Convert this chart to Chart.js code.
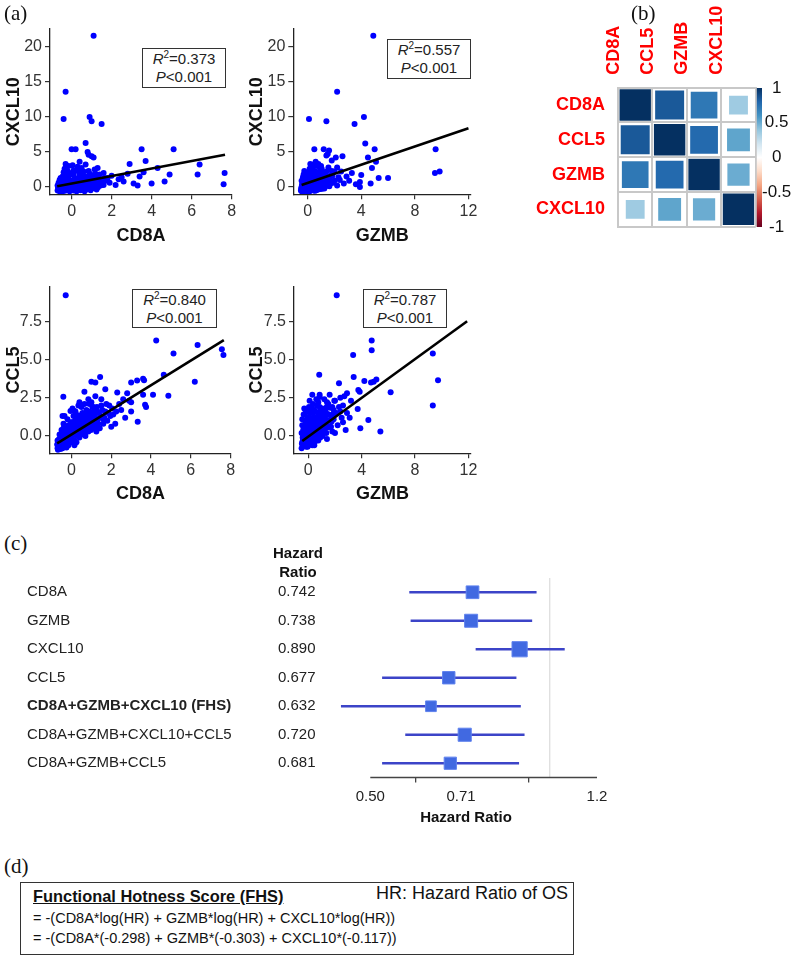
<!DOCTYPE html>
<html><head><meta charset="utf-8">
<script src="https://cdn.jsdelivr.net/npm/chart.js@4.4.0/dist/chart.umd.min.js"></script>
<style>
html,body{margin:0;padding:0;background:#fff;}
#root{position:relative;width:794px;height:968px;overflow:hidden;font-family:"Liberation Sans",Arial,sans-serif;color:#111;}
canvas{position:absolute;}
.lab{position:absolute;font-family:"Liberation Serif","Times New Roman",serif;font-size:21px;color:#111;line-height:24px;}
.stat{position:absolute;border:1px solid #333;background:#fff;text-align:center;font-size:15px;line-height:18px;color:#222;box-sizing:border-box;padding-top:1px;}
.stat i{font-style:italic;}
.stat sup{font-size:10px;line-height:0;vertical-align:6px;}
</style></head>
<body><div id="root">
<canvas id="sTL" width="240" height="240" style="left:0;top:15px"></canvas>
<canvas id="sTR" width="240" height="240" style="left:243px;top:15px"></canvas>
<canvas id="sBL" width="240" height="240" style="left:0;top:272px"></canvas>
<canvas id="sBR" width="240" height="240" style="left:243px;top:272px"></canvas>
<canvas id="mat" width="240" height="251" style="left:530px;top:0"></canvas>
<canvas id="cbar" width="49" height="163" style="left:745px;top:77px"></canvas>
<canvas id="forest" width="620" height="263" style="left:0;top:569px"></canvas>

<div class="lab" style="left:4px;top:1px">(a)</div>
<div class="lab" style="left:631px;top:1px">(b)</div>
<div class="lab" style="left:4px;top:531px">(c)</div>
<div class="lab" style="left:4px;top:854px">(d)</div>

<div class="stat" style="left:142px;top:48px;width:84px;height:40px"><i>R</i><sup>2</sup>=0.373<br><i>P</i>&lt;0.001</div>
<div class="stat" style="left:387px;top:39px;width:84px;height:40px"><i>R</i><sup>2</sup>=0.557<br><i>P</i>&lt;0.001</div>
<div class="stat" style="left:132px;top:289px;width:85px;height:39px"><i>R</i><sup>2</sup>=0.840<br><i>P</i>&lt;0.001</div>
<div class="stat" style="left:363px;top:289px;width:84px;height:39px"><i>R</i><sup>2</sup>=0.787<br><i>P</i>&lt;0.001</div>

<div style="position:absolute;left:263px;top:543px;width:70px;text-align:center;font-weight:bold;font-size:15px;line-height:19px;color:#111">Hazard<br>Ratio</div>

<div style="position:absolute;left:20px;top:882px;width:554px;height:73px;border:1.3px solid #333;box-sizing:border-box;color:#111">
 <div style="position:absolute;left:12px;top:4px;font-weight:bold;font-size:16.4px;text-decoration:underline;white-space:nowrap">Functional Hotness Score (FHS)</div>
 <div style="position:absolute;right:5px;top:0px;font-size:18px;white-space:nowrap">HR: Hazard Ratio of OS</div>
 <div style="position:absolute;left:12px;top:27px;font-size:14.5px;white-space:nowrap">= -(CD8A*log(HR) + GZMB*log(HR) + CXCL10*log(HR))</div>
 <div style="position:absolute;left:12px;top:47px;font-size:14.5px;white-space:nowrap">= -(CD8A*(-0.298) + GZMB*(-0.303) + CXCL10*(-0.117))</div>
</div>
</div>
<script>
// ---------------- data ----------------
const cd8aCxcl10 = [
[1.1,21.6],[-0.3,13.6],[-0.4,9.7],[0.9,10.0],[1.0,9.4],[1.5,9.0],[0.7,6.3],[0.0,5.4],[0.2,5.4],[0.8,5.0],[0.85,4.6],[1.0,4.4],[1.1,4.2],[-0.3,3.3],[-0.15,3.0],[0.4,3.6],[1.3,2.7],[3.5,5.4],[5.1,5.4],[3.7,3.7],[2.9,3.3],[4.3,2.7],[6.4,3.2],[6.3,1.8],[4.9,1.8],[7.65,2.0],[7.6,0.4],[4.65,0.8],[4.0,0.5],[3.1,0.5],[2.35,1.1],[3.6,2.1],[3.4,1.5],[2.0,1.6],[1.6,2.0],[1.8,1.3],[2.6,0.8],[1.4,1.8],[2.2,0.3],[1.9,0.6],[2.8,1.9],[3.3,0.2],[1.7,0.9],[2.5,1.4],
[-0.7,-0.5],[-0.6,-0.3],[-0.55,0.0],[-0.5,0.4],[-0.45,-0.6],[-0.4,0.8],[-0.35,-0.2],[-0.3,1.2],[-0.25,0.3],[-0.2,-0.4],[-0.15,1.6],[-0.1,0.6],[-0.05,-0.1],[0.0,2.0],[0.05,0.9],[0.1,-0.5],[0.15,1.3],[0.2,0.2],[0.25,2.4],[0.3,0.7],[0.35,-0.3],[0.4,1.8],[0.45,0.4],[0.5,-0.1],[0.55,1.1],[0.6,2.2],[0.65,0.5],[0.7,-0.4],[0.75,1.5],[0.8,0.8],[0.85,0.1],[0.9,1.9],[0.95,0.6],[1.0,-0.2],[1.05,1.2],[1.1,0.4],[1.15,2.5],[1.2,0.9],[1.25,0.1],[1.3,1.4],[1.35,0.6],[1.45,0.2],[1.5,1.0],[-0.65,0.6],[-0.6,1.0],[-0.5,-0.2],[-0.4,2.1],[-0.3,0.1],[-0.2,0.9],[-0.1,-0.6],[0.0,0.4],[0.1,1.7],[0.2,-0.3],[0.3,1.0],[0.4,0.0],[0.5,2.7],[0.6,0.3],[0.7,1.2],[0.8,-0.1],[0.9,0.5],[1.0,1.6],[0.15,0.6],[0.45,1.4],[-0.45,1.5],[-0.7,0.2],[-0.6,-0.6],[0.25,-0.6],[0.65,-0.6],[-0.35,2.6],[0.05,3.1],[0.3,2.9],[0.7,3.2],[-0.2,2.3],[1.2,1.9],[0.55,0.0],[0.35,0.3],[-0.05,0.2],[-0.25,-0.3],
[-0.68,-0.1],[-0.62,0.3],[-0.58,-0.45],[-0.52,0.15],[-0.48,0.7],[-0.42,-0.35],[-0.38,0.35],[-0.33,-0.55],[-0.28,0.55],[-0.22,0.15],[-0.18,-0.15],[-0.12,0.35],[-0.08,0.95],[-0.02,-0.35],[0.02,0.65],[0.08,0.15],[0.12,-0.2],[0.18,0.95],[0.22,0.45],[0.28,-0.45],[0.32,0.25],[0.38,1.25],[0.42,-0.25],[0.48,0.75],[0.52,0.15],[0.58,-0.35],[0.62,0.95],[0.68,0.25],[0.72,0.65],[0.78,-0.25],[0.82,0.45],[0.88,1.05],[0.92,-0.05],[0.98,0.35],[1.02,0.85],[1.08,-0.15],[1.12,0.75],[1.18,0.35],[1.22,1.15],[1.28,0.45],[1.32,-0.05],[1.38,0.95],[1.42,0.55],[1.48,0.35],[1.55,0.75],[1.6,0.3],[1.65,1.3],[-0.55,1.3],[-0.25,1.8],[0.1,2.4],[0.35,2.2],[0.6,1.6],[0.85,2.3],[1.1,1.7],[-0.65,-0.35],[-0.05,-0.45],[0.45,-0.45],[0.95,-0.45],[1.25,-0.35],[-0.35,0.6],[0.15,0.3],[0.65,0.1],[0.75,0.35],[0.05,-0.2],[0.55,0.55]
];
const gzmbCxcl10 = [
[4.9,21.6],[2.2,13.6],[0.1,9.7],[4.2,10.0],[1.4,9.4],[3.5,9.0],[4.3,6.2],[0.5,5.4],[1.2,5.4],[1.6,5.2],[1.5,4.7],[1.4,4.5],[2.6,4.4],[5.0,5.4],[9.55,5.4],[4.5,4.2],[4.8,2.7],[5.1,3.6],[4.0,1.7],[3.3,2.0],[5.3,1.3],[6.0,1.3],[9.5,2.0],[9.85,2.2],[4.7,0.5],[3.9,0.7],[3.9,0.0],[2.1,4.2],[0.8,3.3],[0.3,3.0],[0.6,3.6],[1.0,3.0],[1.8,3.8],[2.9,1.5],[2.4,1.0],[2.7,0.5],[3.1,0.9],[2.0,2.2],[1.7,1.6],[3.6,0.4],[2.2,0.2],[1.9,0.6],
[-0.5,-0.5],[-0.45,0.0],[-0.4,-0.3],[-0.35,0.5],[-0.3,1.0],[-0.25,-0.6],[-0.2,0.3],[-0.15,1.5],[-0.1,-0.2],[-0.05,0.8],[0.0,2.0],[0.05,0.1],[0.1,1.2],[0.15,-0.4],[0.2,0.6],[0.25,2.4],[0.3,0.0],[0.35,1.6],[0.4,0.4],[0.45,-0.5],[0.5,1.0],[0.55,2.2],[0.6,0.2],[0.65,1.4],[0.7,-0.2],[0.75,0.7],[0.8,1.9],[0.85,0.3],[0.9,1.1],[0.95,-0.3],[1.0,0.6],[1.05,2.6],[1.1,1.3],[1.15,0.1],[1.2,0.8],[1.3,1.7],[1.35,0.4],[1.4,1.0],[1.5,0.2],[-0.45,0.9],[-0.35,-0.1],[-0.3,1.8],[-0.2,0.0],[-0.1,1.1],[0.0,-0.6],[0.1,0.5],[0.2,1.6],[0.3,-0.3],[0.4,2.8],[0.5,0.3],[0.6,1.2],[0.7,3.0],[0.8,0.0],[0.9,2.3],[1.0,-0.1],[1.1,0.5],[1.2,2.0],[1.25,-0.2],[0.15,2.6],[-0.25,2.3],[0.45,3.2],[0.05,0.9],[0.35,0.7],[0.65,0.6],[0.25,-0.1],[-0.05,0.4],[1.6,1.2],[1.7,0.5],[1.8,2.3],[1.55,2.8],
[-0.48,-0.2],[-0.42,0.35],[-0.38,-0.5],[-0.32,0.15],[-0.28,0.65],[-0.22,-0.35],[-0.18,1.2],[-0.12,0.25],[-0.08,-0.45],[-0.02,0.55],[0.02,1.4],[0.08,-0.25],[0.12,0.35],[0.18,0.95],[0.22,-0.5],[0.28,0.45],[0.32,1.25],[0.38,0.05],[0.42,0.75],[0.48,1.75],[0.52,-0.15],[0.58,0.55],[0.62,0.95],[0.68,0.25],[0.72,1.5],[0.78,-0.35],[0.82,0.65],[0.88,0.15],[0.92,1.45],[0.98,0.35],[1.02,0.95],[1.08,-0.25],[1.12,0.75],[1.18,1.55],[1.22,0.35],[1.28,0.05],[1.32,1.0],[1.38,0.6],[1.45,1.4],[1.52,0.7],[1.62,0.1],[1.72,0.9],[1.85,1.6],[2.0,0.9],[2.3,1.4],[2.5,2.2],[2.2,2.8],[1.4,2.2],[0.9,2.9],[0.2,3.3],[-0.35,1.4],[-0.15,0.6],[0.05,0.3],[0.25,0.1],[0.45,0.3],[0.65,-0.45],[0.85,-0.15],[-0.45,-0.6],[0.15,-0.6],[0.55,-0.55]
];
const cd8aCcl5 = [
[-0.29,9.2],[4.26,6.25],[6.34,5.95],[5.13,5.4],[7.56,5.67],[7.64,5.3],[6.2,3.55],[4.64,4.0],[1.44,3.86],[1.0,3.55],[1.2,3.5],[3.6,3.75],[3.65,3.65],[3.3,3.63],[3.0,3.5],[4.87,2.63],[3.6,2.7],[4.1,2.7],[3.7,2.05],[3.75,1.9],[3.33,0.94],[-0.41,2.57],[-0.45,1.3],[-0.05,1.64],[0.15,1.64],[1.7,3.05],[0.65,2.9],[2.2,0.8],[2.9,2.3],[3.0,2.2],[2.3,2.85],[2.6,2.4],[1.9,2.0],[2.1,1.4],[2.5,1.7],[1.6,1.1],[2.8,2.8],[1.3,0.6],[0.9,2.1],[1.5,2.4],[1.1,1.9],[0.4,2.2],
[-0.7,-0.8],[-0.65,-0.5],[-0.6,-0.7],[-0.55,-0.3],[-0.5,-0.6],[-0.45,0.0],[-0.4,-0.4],[-0.35,0.2],[-0.3,-0.5],[-0.25,0.4],[-0.2,-0.2],[-0.15,0.7],[-0.1,0.0],[-0.05,-0.4],[0.0,0.5],[0.05,0.9],[0.1,0.1],[0.15,-0.3],[0.2,0.6],[0.25,1.2],[0.3,0.3],[0.35,0.8],[0.4,-0.1],[0.45,1.0],[0.5,0.5],[0.55,1.5],[0.6,0.2],[0.65,1.0],[0.7,0.6],[0.75,1.7],[0.8,0.9],[0.85,0.3],[0.9,1.3],[0.95,0.7],[1.0,1.1],[1.05,1.9],[1.1,0.5],[1.15,1.4],[1.2,0.9],[1.3,1.6],[1.35,0.8],[1.4,1.2],[1.5,2.0],[-0.7,-0.3],[-0.6,0.1],[-0.5,0.4],[-0.4,0.8],[-0.3,-0.1],[-0.2,1.1],[-0.1,0.4],[0.0,-0.1],[0.1,0.7],[0.2,1.6],[0.3,0.0],[0.4,0.6],[0.5,1.3],[0.6,0.8],[0.7,0.0],[0.8,1.4],[0.9,0.5],[1.0,2.2],[1.1,1.0],[1.2,1.8],[-0.45,-0.8],[-0.15,-0.6],[0.15,-0.6],[0.35,2.0],[-0.35,1.3],[0.05,1.8],[0.65,2.1],[1.25,0.3],[1.6,0.8],[1.7,1.6],[1.8,1.0],[1.95,1.3],[2.0,0.6],
[-0.72,-0.55],[-0.68,-0.9],[-0.62,-0.2],[-0.58,-0.55],[-0.52,-0.1],[-0.48,-0.7],[-0.42,0.3],[-0.38,-0.15],[-0.32,0.5],[-0.28,-0.3],[-0.22,0.25],[-0.18,-0.45],[-0.12,0.6],[-0.08,0.15],[-0.02,0.9],[0.02,0.2],[0.08,-0.25],[0.12,0.45],[0.18,1.0],[0.22,0.15],[0.28,0.7],[0.32,1.35],[0.38,0.35],[0.42,0.85],[0.48,0.1],[0.52,0.7],[0.58,1.15],[0.62,0.45],[0.68,1.35],[0.72,0.3],[0.78,1.1],[0.82,0.65],[0.88,1.6],[0.92,0.9],[0.98,0.4],[1.02,1.4],[1.08,0.8],[1.12,1.6],[1.18,1.2],[1.22,0.6],[1.28,1.9],[1.32,1.1],[1.38,1.5],[1.42,0.5],[1.48,1.3],[1.55,1.7],[1.65,1.2],[1.75,2.1],[1.85,1.5],[2.05,1.8],[2.25,1.6],[2.4,2.1],[-0.55,-0.85],[-0.25,-0.75],[0.25,-0.4],[-0.4,0.5],[0.1,1.3],[0.5,1.9],[0.85,2.4],[1.2,2.6],[2.7,1.2],[3.0,1.6]
];
const gzmbCcl5 = [
[2.13,9.2],[4.75,6.25],[4.75,5.6],[3.36,5.3],[9.33,5.4],[0.82,4.0],[3.4,3.85],[9.72,3.64],[5.1,3.7],[4.2,3.6],[4.7,3.5],[4.9,3.55],[2.3,3.45],[6.17,2.86],[3.75,3.0],[3.85,2.9],[2.9,2.8],[0.3,2.7],[0.85,2.7],[0.85,2.55],[1.6,2.7],[9.33,2.0],[3.7,1.76],[-0.3,1.8],[0.1,1.8],[4.5,1.05],[3.9,0.5],[5.4,0.3],[2.9,1.5],[3.1,1.2],[2.6,0.9],[2.0,2.3],[1.8,1.9],[2.4,1.6],[1.9,1.1],[2.2,0.7],[1.4,2.2],[1.7,0.6],[2.8,0.4],[1.2,2.4],[1.5,1.4],[3.2,2.3],
[-0.5,-0.8],[-0.45,-0.4],[-0.4,0.1],[-0.35,-0.6],[-0.3,0.5],[-0.25,-0.2],[-0.2,0.9],[-0.15,0.2],[-0.1,-0.5],[-0.05,1.2],[0.0,0.4],[0.05,-0.1],[0.1,0.8],[0.15,1.5],[0.2,0.0],[0.25,0.6],[0.3,1.1],[0.35,-0.3],[0.4,0.9],[0.45,1.7],[0.5,0.3],[0.55,1.2],[0.6,0.6],[0.65,2.0],[0.7,0.1],[0.75,1.0],[0.8,1.5],[0.85,0.5],[0.9,1.2],[0.95,0.0],[1.0,0.8],[1.05,1.8],[1.1,0.4],[1.15,1.3],[1.2,0.7],[1.3,1.6],[1.35,0.2],[1.4,1.0],[1.5,2.1],[-0.45,0.7],[-0.35,1.4],[-0.25,0.3],[-0.15,-0.7],[-0.05,0.5],[0.05,1.6],[0.15,-0.5],[0.25,1.9],[0.35,0.4],[0.45,0.0],[0.55,-0.2],[0.65,0.8],[0.75,-0.3],[0.85,1.9],[0.95,1.5],[1.05,0.3],[1.25,1.1],[-0.5,0.2],[-0.4,-0.2],[0.0,-0.6],[0.3,-0.6],[0.1,2.3],[-0.2,1.7],[0.6,2.4],[1.6,0.6],[1.7,1.3],[1.8,0.3],[1.9,1.7],
[-0.48,-0.5],[-0.42,-0.1],[-0.38,0.4],[-0.32,-0.3],[-0.28,0.15],[-0.22,-0.55],[-0.18,0.55],[-0.12,0.05],[-0.08,1.0],[-0.02,-0.25],[0.02,0.75],[0.08,0.3],[0.12,1.2],[0.18,-0.2],[0.22,0.85],[0.28,0.35],[0.32,1.5],[0.38,0.1],[0.42,0.6],[0.48,1.25],[0.52,-0.35],[0.58,0.9],[0.62,0.35],[0.68,1.55],[0.72,0.55],[0.78,1.25],[0.82,0.2],[0.88,0.9],[0.92,1.7],[0.98,0.55],[1.02,1.15],[1.08,0.0],[1.12,0.95],[1.18,1.7],[1.22,0.45],[1.28,1.3],[1.32,0.85],[1.38,1.9],[1.45,0.55],[1.52,1.4],[1.58,1.0],[1.65,1.85],[1.75,0.95],[1.85,1.4],[1.95,2.3],[2.1,1.5],[2.3,1.9],[2.5,1.2],[2.6,2.0],[2.7,2.6],[2.4,2.5],[-0.45,1.1],[-0.25,1.4],[0.05,1.9],[0.35,2.1],[0.75,2.2],[0.45,-0.6],[-0.05,-0.7],[0.9,-0.1],[1.4,-0.2],[2.0,0.2]
];
// fitted regression lines (endpoints)
const fitCd8aCxcl10 = [[-0.72,0.1],[7.67,4.6]];
const fitGzmbCxcl10 = [[-0.45,0.3],[12.0,8.4]];
const fitCd8aCcl5 = [[-0.72,-0.48],[7.66,6.27]];
const fitGzmbCcl5 = [[-0.45,-0.33],[11.9,7.5]];
// tick values / labels
const ticksCd8a = [0,2,4,6,8];
const ticksCd8aLabels = ['0','2','4','6','8'];
const ticksGzmb = [0,4,8,12];
const ticksGzmbLabels = ['0','4','8','12'];
const ticksCxcl10 = [0,5,10,15,20];
const ticksCxcl10Labels = ['0','5','10','15','20'];
const ticksCcl5 = [0,2.5,5,7.5];
const ticksCcl5Labels = ['0.0','2.5','5.0','7.5'];
// correlation matrix
const genes = ['CD8A','CCL5','GZMB','CXCL10'];
const corr = [
 [1.00,0.85,0.72,0.36],
 [0.85,1.00,0.78,0.53],
 [0.72,0.78,1.00,0.50],
 [0.36,0.53,0.50,1.00]
];
const cbTicks = [-1,-0.5,0,0.5,1];
const cbLabels = ['-1','-0.5','0','0.5','1'];
// forest plot
const forestLabels = ['CD8A','GZMB','CXCL10','CCL5','CD8A+GZMB+CXCL10 (FHS)','CD8A+GZMB+CXCL10+CCL5','CD8A+GZMB+CCL5'];
const hazard = [0.742,0.738,0.890,0.677,0.632,0.720,0.681];
const hazardText = ['0.742','0.738','0.890','0.677','0.632','0.720','0.681'];
const ciLow = [0.582,0.585,0.752,0.524,0.447,0.573,0.524];
const ciHigh = [0.949,0.933,1.058,0.878,0.893,0.906,0.887];
const hrTicks = [0.5,0.71,1.2];
const hrTickLabels = ['0.50','0.71','1.2'];

// ---------------- setup ----------------
const FONT = '"Liberation Sans", Arial, sans-serif';
Chart.defaults.font.family = FONT;
Chart.defaults.animation = false;
Chart.defaults.responsive = false;
Chart.defaults.events = [];
Chart.defaults.layout.autoPadding = false;
Chart.defaults.plugins.legend.display = false;
Chart.defaults.plugins.tooltip.enabled = false;

function scatterPanel(id, pts, fit, xr, yr, xt, xtl, yt, ytl, xTitle, yTitle, g){
  return new Chart(document.getElementById(id), {
    type:'scatter',
    data:{datasets:[
      {type:'line', data: fit.map(p=>({x:p[0],y:p[1]})), borderColor:'#000', borderWidth:2.6, pointRadius:0, fill:false, tension:0, order:0},
      {data: pts.map(p=>({x:p[0],y:p[1]})), pointRadius:3, backgroundColor:'#0000ff', pointBackgroundColor:'#0000ff', borderWidth:0, pointBorderWidth:0, order:1}
    ]},
    options:{
      layout:{padding:{top:g.top,right:g.right,left:0,bottom:0}},
      scales:{
        x:{type:'linear', min:xr[0], max:xr[1],
           afterBuildTicks:s=>{s.ticks = xt.map(v=>({value:v}));},
           ticks:{callback:(v,i)=>xtl[i], font:{size:16}, color:'#333', padding:3, maxRotation:0, autoSkip:false},
           grid:{drawOnChartArea:false, tickLength:5, color:'#333', lineWidth:1.2},
           border:{color:'#222', width:1.3},
           title:{display:true, text:xTitle, font:{size:18, weight:'bold'}, color:'#111', padding:{top:0,bottom:g.xtb}},
           afterFit:s=>{s.height = g.xh;}},
        y:{type:'linear', min:yr[0], max:yr[1],
           afterBuildTicks:s=>{s.ticks = yt.map(v=>({value:v}));},
           ticks:{callback:(v,i)=>ytl[i], font:{size:16}, color:'#333', padding:3, autoSkip:false},
           grid:{drawOnChartArea:false, tickLength:5, color:'#333', lineWidth:1.2},
           border:{color:'#222', width:1.3},
           title:{display:true, text:yTitle, font:{size:18, weight:'bold'}, color:'#111', padding:{top:3,bottom:0}},
           afterFit:s=>{s.width = g.yw;}}
      }
    }
  });
}

scatterPanel('sTL', cd8aCxcl10, fitCd8aCxcl10, [-1.08,8.02], [-1.04,22.57], ticksCd8a, ticksCd8aLabels, ticksCxcl10, ticksCxcl10Labels, 'CD8A', 'CXCL10', {top:14,right:8,yw:50,xh:60.7,xtb:8});
scatterPanel('sTR', gzmbCxcl10, fitGzmbCxcl10, [-1.07,12.19], [-1.04,22.57], ticksGzmb, ticksGzmbLabels, ticksCxcl10, ticksCxcl10Labels, 'GZMB', 'CXCL10', {top:14,right:12,yw:50.3,xh:60.7,xtb:8});
scatterPanel('sBL', cd8aCcl5, fitCd8aCcl5, [-1.08,8.02], [-1.13,9.76], ticksCd8a, ticksCd8aLabels, ticksCcl5, ticksCcl5Labels, 'CD8A', 'CCL5', {top:14.7,right:9,yw:50,xh:58.7,xtb:7});
scatterPanel('sBR', gzmbCcl5, fitGzmbCcl5, [-1.07,12.19], [-1.13,9.76], ticksGzmb, ticksGzmbLabels, ticksCcl5, ticksCcl5Labels, 'GZMB', 'CCL5', {top:14.7,right:12,yw:51,xh:58.7,xtb:7});

// colour map (corrplot RdBu)
const PALETTE = ['#67001F','#B2182B','#D6604D','#F4A582','#FDDBC7','#FFFFFF','#D1E5F0','#92C5DE','#4393C3','#2166AC','#053061'];
function hex2rgb(h){return [parseInt(h.slice(1,3),16),parseInt(h.slice(3,5),16),parseInt(h.slice(5,7),16)];}
function colorFor(v){
  const t = (v+1)/2*(PALETTE.length-1);
  const i = Math.min(Math.floor(t), PALETTE.length-2), f = t-i;
  const a = hex2rgb(PALETTE[i]), b = hex2rgb(PALETTE[i+1]);
  return 'rgb('+a.map((c,k)=>Math.round(c+(b[k]-c)*f)).join(',')+')';
}

const matrixPts = [];
genes.forEach((gy,i)=>genes.forEach((gx,j)=>matrixPts.push({x:gx, y:gy, v:corr[i][j]})));

new Chart(document.getElementById('mat'), {
  type:'scatter',
  data:{datasets:[{
    data: matrixPts,
    pointStyle:'rect',
    pointRadius: ctx => { const a = ctx.chart.chartArea; if(!a) return 0; const cell = a.width/genes.length; return (cell-3)*Math.sqrt(Math.abs(ctx.raw.v))/Math.SQRT2; },
    backgroundColor: ctx => colorFor(ctx.raw.v),
    pointBackgroundColor: ctx => colorFor(ctx.raw.v),
    borderWidth:0, pointBorderWidth:0
  }]},
  options:{
    layout:{padding:{top:0,right:14.3,bottom:24.3,left:0}},
    scales:{
      x:{type:'category', labels:genes, position:'top', offset:true,
         grid:{offset:true, color:'#c8c8c8', lineWidth:2, drawTicks:false},
         border:{display:true, color:'#c8c8c8', width:2},
         ticks:{color:'#ff0000', font:{size:18, weight:'bold'}, minRotation:90, maxRotation:90, padding:13, autoSkip:false},
         afterFit:s=>{s.height = 87.7;}},
      y:{type:'category', labels:genes, offset:true,
         grid:{offset:true, color:'#c8c8c8', lineWidth:2, drawTicks:false},
         border:{display:true, color:'#c8c8c8', width:2},
         ticks:{color:'#ff0000', font:{size:18, weight:'bold'}, padding:13, autoSkip:false},
         afterFit:s=>{s.width = 88;}}
    }
  }
});

new Chart(document.getElementById('cbar'), {
  type:'bar',
  data:{labels:[''], datasets:[{
    data:[[cbTicks[0], cbTicks[cbTicks.length-1]]],
    backgroundColor: ctx => {
      const {ctx:c, chartArea:a} = ctx.chart; if(!a) return '#fff';
      const g = c.createLinearGradient(0,a.bottom,0,a.top);
      PALETTE.forEach((col,i)=>g.addColorStop(i/(PALETTE.length-1), col));
      return g;
    },
    barPercentage:1, categoryPercentage:1, borderWidth:0
  }]},
  options:{
    layout:{padding:{left:11.7, top:11, bottom:13, right:0}},
    scales:{
      x:{display:false},
      y:{position:'right', min:-1, max:1,
         afterBuildTicks:s=>{s.ticks = cbTicks.map(v=>({value:v}));},
         ticks:{callback:(v,i)=>cbLabels[i], font:{size:17}, color:'#111', crossAlign:'center', padding:0, autoSkip:false},
         grid:{display:false, drawTicks:false}, border:{display:false},
         afterFit:s=>{s.width = 32;}}
    }
  }
});

// forest plot
const forestDeco = {id:'forestDeco',
  beforeDatasetsDraw(chart){
    const {ctx, chartArea:a, scales:{x}} = chart;
    ctx.save();
    const px = x.getPixelForValue(1);
    ctx.strokeStyle = '#d4d4d4'; ctx.lineWidth = 1;
    ctx.beginPath(); ctx.moveTo(px, a.top); ctx.lineTo(px, a.bottom); ctx.stroke();
    ctx.strokeStyle = '#444'; ctx.lineWidth = 1.3;
    ctx.beginPath(); ctx.moveTo(x.getPixelForValue(hrTicks[0]), a.bottom); ctx.lineTo(x.getPixelForValue(hrTicks[hrTicks.length-1]), a.bottom); ctx.stroke();
    ctx.restore();
  }
};
new Chart(document.getElementById('forest'), {
  type:'bar',
  data:{labels:forestLabels, datasets:[
    {type:'bar', indexAxis:'y', data: ciLow.map((l,i)=>[l, ciHigh[i]]), backgroundColor:'#3c44c8', barThickness:2, borderWidth:0, order:2},
    {type:'scatter', data: hazard.map((h,i)=>({x:h, y:forestLabels[i]})), pointStyle:'rect',
     pointRadius: ctx => 8.88/Math.sqrt(Math.log(ciHigh[ctx.dataIndex]/ciLow[ctx.dataIndex]))/Math.SQRT2,
     backgroundColor:'#4169e1', pointBackgroundColor:'#4169e1', borderColor:'#5f82ee', pointBorderColor:'#5f82ee', pointBorderWidth:1, order:1}
  ]},
  options:{
    layout:{padding:{left:27, top:9, right:23, bottom:0}},
    scales:{
      x:{type:'logarithmic', min:0.4363, max:1.2,
         afterBuildTicks:s=>{s.ticks = hrTicks.map(v=>({value:v}));},
         ticks:{callback:(v,i)=>hrTickLabels[i], font:{size:15}, color:'#222', padding:5, autoSkip:false, maxRotation:0},
         grid:{drawOnChartArea:false, tickLength:5, color:'#444', lineWidth:1.3},
         border:{display:false},
         title:{display:true, text:'Hazard Ratio', font:{size:15, weight:'bold'}, color:'#111', padding:{top:0,bottom:5}},
         afterFit:s=>{s.height = 54.5;}},
      y:{type:'category', offset:true, weight:2,
         grid:{display:false, drawTicks:false}, border:{display:false},
         ticks:{crossAlign:'far', color:'#222', autoSkip:false, padding:0,
                font: c => ({size:15, family:FONT, weight: forestLabels[c.index]==='CD8A+GZMB+CXCL10 (FHS)' ? 'bold' : 'normal'})},
         afterFit:s=>{s.width = 251;}},
      y2:{type:'category', labels:hazardText, position:'left', offset:true, weight:1,
         grid:{display:false, drawTicks:false}, border:{display:false},
         ticks:{crossAlign:'far', color:'#222', autoSkip:false, padding:0, font:{size:15}},
         afterFit:s=>{s.width = 57;}}
    }
  },
  plugins:[forestDeco]
});
</script>
</body></html>
